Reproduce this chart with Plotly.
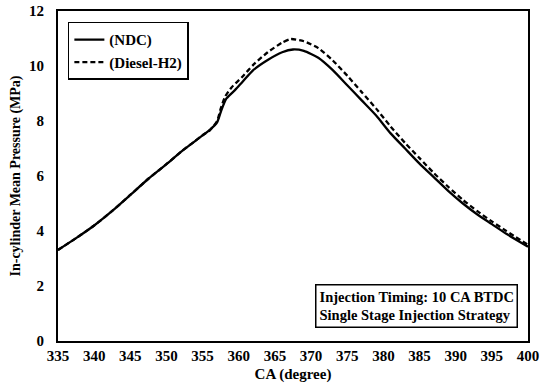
import plotly.graph_objects as go

ca_ndc = [335, 337.5, 340, 342.5, 345, 347.5, 350, 352, 354, 355, 356, 357, 357.6, 358.3, 359.5,
          360.5, 362, 364, 366, 367.5, 369, 371, 373, 375, 377, 379, 381, 383, 385, 387, 389,
          391, 393, 395, 397, 400]
p_ndc = [3.31, 3.74, 4.2, 4.73, 5.31, 5.9, 6.43, 6.88, 7.28, 7.48, 7.68, 7.95, 8.4, 8.82, 9.13,
         9.42, 9.85, 10.22, 10.5, 10.6, 10.55, 10.3, 9.85, 9.3, 8.75, 8.2, 7.55, 7.0, 6.45, 5.95, 5.45,
         5.0, 4.6, 4.25, 3.9, 3.43]

ca_h2 = [335, 337.5, 340, 342.5, 345, 347.5, 350, 352, 354, 355, 356, 357, 357.5, 358.1, 359,
         360.4, 362, 364, 366, 367.2, 369, 371, 373, 375, 377, 379, 381, 383, 385, 387, 389,
         391, 393, 395, 397, 400]
p_h2 = [3.31, 3.74, 4.2, 4.73, 5.31, 5.9, 6.43, 6.88, 7.28, 7.48, 7.66, 8.0, 8.45, 8.88, 9.22,
        9.58, 10.04, 10.5, 10.85, 10.98, 10.9, 10.65, 10.2, 9.65, 9.05, 8.45, 7.8, 7.2, 6.65, 6.1, 5.6,
        5.13, 4.72, 4.35, 4.0, 3.5]

x_ticks = list(range(335, 401, 5))
y_ticks = list(range(0, 13, 2))

font = "Liberation Serif"

fig = go.Figure()
fig.add_trace(go.Scatter(x=ca_ndc, y=p_ndc, mode="lines", name="(NDC)",
                         line=dict(color="black", width=2.3, shape="spline", smoothing=0.6)))
fig.add_trace(go.Scatter(x=ca_h2, y=p_h2, mode="lines", name="(Diesel-H2)",
                         line=dict(color="black", width=2.3, dash="5px,3px", shape="spline", smoothing=0.6)))

fig.update_layout(
    width=542, height=387,
    margin=dict(l=58, r=14, t=11, b=46),
    paper_bgcolor="white", plot_bgcolor="white",
    font=dict(family=font, size=15, color="black"),
    showlegend=True,
    legend=dict(x=0.021, y=0.967, xanchor="left", yanchor="top",
                bordercolor="black", borderwidth=1.5, bgcolor="white",
                font=dict(family=font, size=15, color="black", weight="bold"),
                tracegroupgap=0, itemwidth=30),
    xaxis=dict(range=[335, 400], tickvals=x_ticks, ticktext=[str(v) for v in x_ticks],
               showgrid=False, zeroline=False, showline=True, linecolor="black", linewidth=2,
               mirror=True, ticks="", automargin=False,
               tickfont=dict(family=font, size=15, color="black", weight="bold"),
               title=dict(text="<b>CA (degree)</b>", font=dict(family=font, size=15), standoff=5)),
    yaxis=dict(range=[0, 12], tickvals=y_ticks, ticktext=[str(v) for v in y_ticks],
               showgrid=False, zeroline=False, showline=True, linecolor="black", linewidth=2,
               mirror=True, ticks="", automargin=False, ticklabelstandoff=9,
               tickfont=dict(family=font, size=15, color="black", weight="bold"),
               title=dict(text="<b>In-cylinder Mean Pressure (MPa)</b>", font=dict(family=font, size=14), standoff=5)),
)

fig.add_annotation(
    xref="x domain", yref="y domain", x=0.979, y=0.04, xanchor="right", yanchor="bottom",
    text="<b>Injection Timing: 10 CA BTDC<br>Single Stage Injection Strategy</b>",
    showarrow=False, align="left", bordercolor="black", borderwidth=1.5, borderpad=3,
    bgcolor="white", font=dict(family=font, size=14.5, color="black"),
)

fig.write_html("out.html")
